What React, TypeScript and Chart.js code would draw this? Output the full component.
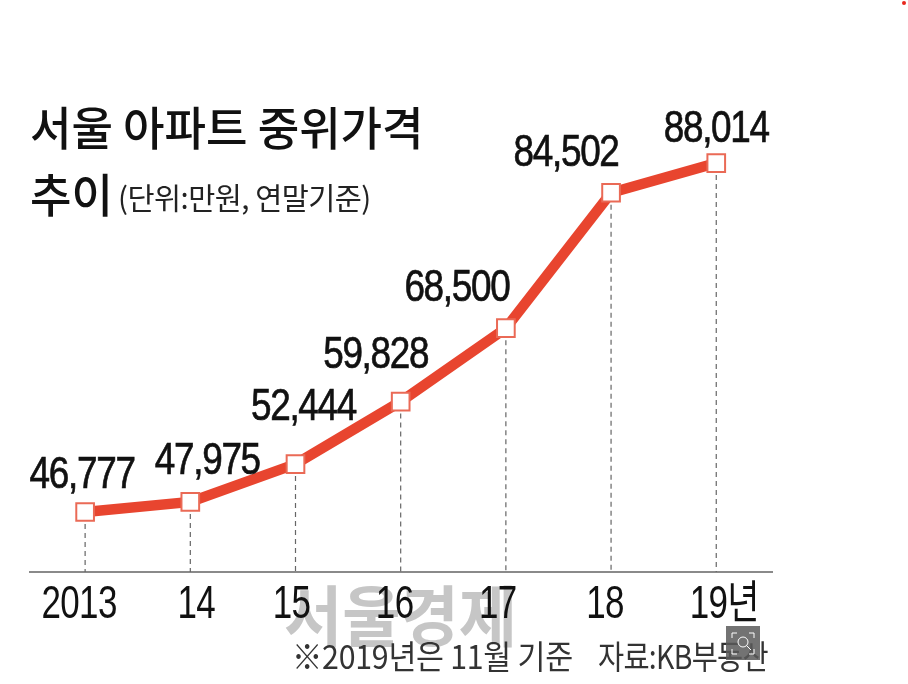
import React, { useEffect, useRef } from "react";
import { Chart, registerables } from "chart.js";

Chart.register(...registerables);

const categories = ["2013", "14", "15", "16", "17", "18", "19년"];
const prices = [46777, 47975, 52444, 59828, 68500, 84502, 88014];
const titleLines = ["서울 아파트 중위가격", "추이"];
const unitNote = "(단위:만원, 연말기준)";
const footNote = "※2019년은 11월 기준";
const sourceNote = "자료:KB부동산";
const watermark = "서울경제";
const labelCentreShift = [-3, 17, 8, -25, -49, -45, 0];
const labelLift = [24, 28, 44, 34, 27, 27, 21];
const tickShift = [-6, 6, -4, -6, -8, -6, 8];

const KR = '"Noto Sans CJK KR"';
const NUM = '"Liberation Sans", ' + KR;

function squeezed(
  ctx: CanvasRenderingContext2D,
  text: string,
  x: number,
  y: number,
  font: string,
  sx: number,
  color: string,
  spacing = "0px",
  align: CanvasTextAlign = "left",
  embolden = 0,
) {
  ctx.save();
  ctx.font = font;
  ctx.fillStyle = color;
  ctx.textAlign = align;
  ctx.textBaseline = "alphabetic";
  (ctx as any).letterSpacing = spacing;
  ctx.translate(x, y);
  ctx.scale(sx, 1);
  ctx.fillText(text, 0, 0);
  if (embolden > 0) {
    ctx.strokeStyle = color;
    ctx.lineWidth = embolden;
    ctx.strokeText(text, 0, 0);
  }
  ctx.restore();
}

const artwork = {
  id: "artwork",
  beforeDraw(chart: any) {
    const ctx = chart.ctx;
    ctx.save();
    ctx.fillStyle = "#ffffff";
    ctx.fillRect(0, 0, chart.width, chart.height);
    ctx.fillStyle = "#e8261c";
    ctx.beginPath();
    ctx.arc(904, 3, 2, 0, Math.PI * 2);
    ctx.fill();
    ctx.restore();
    squeezed(ctx, watermark, 284, 641, `700 66px ${KR}`, 0.96, "#c6c6c6");
    squeezed(ctx, titleLines[0], 30, 145, `500 46px ${KR}`, 0.98, "#111111");
    squeezed(ctx, titleLines[1], 30, 212, `500 46px ${KR}`, 0.98, "#111111");
    squeezed(ctx, unitNote, 118, 209, `400 30px ${KR}`, 0.98, "#222222", "-0.5px");
    squeezed(ctx, footNote, 292, 669, `400 33px ${KR}`, 0.92, "#333333", "-0.3px");
    squeezed(ctx, sourceNote, 598, 669, `400 33px ${KR}`, 0.86, "#333333", "-0.8px");
  },
  beforeDatasetsDraw(chart: any) {
    const ctx = chart.ctx;
    const xs = chart.scales.x;
    categories.forEach((c, i) => {
      squeezed(ctx, c, xs.getPixelForValue(i) + tickShift[i], 618, `400 46px ${NUM}`, 0.76, "#111111", "-0.8px", "center");
    });
    const pts = chart.getDatasetMeta(0).data;
    const base = chart.chartArea.bottom;
    ctx.save();
    ctx.strokeStyle = "#666666";
    ctx.lineWidth = 1.2;
    ctx.setLineDash([5, 4]);
    pts.forEach((p: any) => {
      ctx.beginPath();
      ctx.moveTo(p.x, p.y + 12);
      ctx.lineTo(p.x, base);
      ctx.stroke();
    });
    ctx.restore();
  },
  afterDatasetsDraw(chart: any) {
    const ctx = chart.ctx;
    const pts = chart.getDatasetMeta(0).data;
    pts.forEach((p: any, i: number) => {
      squeezed(
        ctx,
        prices[i].toLocaleString("en-US"),
        p.x + labelCentreShift[i],
        p.y - labelLift[i],
        `400 45px ${NUM}`,
        0.82,
        "#111111",
        "-1.6px",
        "center",
        0.7,
      );
    });
  },
  afterDraw(chart: any) {
    const ctx = chart.ctx;
    ctx.save();
    ctx.fillStyle = "rgba(90,90,90,0.85)";
    ctx.fillRect(726, 626, 34, 34);
    ctx.strokeStyle = "#ffffff";
    ctx.lineWidth = 1;
    ctx.beginPath();
    ctx.moveTo(732, 638); ctx.lineTo(732, 633); ctx.lineTo(737, 633);
    ctx.moveTo(749, 633); ctx.lineTo(754, 633); ctx.lineTo(754, 638);
    ctx.moveTo(754, 649); ctx.lineTo(754, 654); ctx.lineTo(749, 654);
    ctx.moveTo(737, 654); ctx.lineTo(732, 654); ctx.lineTo(732, 649);
    ctx.stroke();
    ctx.beginPath();
    ctx.arc(743, 642, 5, 0, Math.PI * 2);
    ctx.moveTo(746.5, 645.5); ctx.lineTo(751, 650);
    ctx.stroke();
    ctx.restore();
  },
};

export default function App() {
  const ref = useRef<HTMLCanvasElement>(null);
  useEffect(() => {
    const chart = new Chart(ref.current as HTMLCanvasElement, {
      type: "line",
      data: {
        datasets: [
          {
            data: prices.map((v, i) => ({ x: i, y: v })),
            borderColor: "#e8452f",
            borderWidth: 10.5,
            borderJoinStyle: "miter",
            tension: 0,
            pointStyle: "rect",
            pointRadius: 12.5,
            pointBackgroundColor: "#ffffff",
            pointBorderColor: "#ea6a56",
            pointBorderWidth: 2,
          },
        ],
      },
      options: {
        responsive: false,
        animation: false,
        layout: { autoPadding: false, padding: { left: 30, right: 136, top: 0, bottom: 0 } },
        plugins: { legend: { display: false }, tooltip: { enabled: false }, title: { display: false } },
        scales: {
          x: {
            type: "linear",
            min: -0.524,
            max: 6.53,
            afterBuildTicks: (s: any) => {
              s.ticks = categories.map((_, i) => ({ value: i }));
            },
            afterFit: (s: any) => {
              s.height = 112;
            },
            grid: { display: false, drawTicks: false },
            border: { display: true, color: "#8a8a8a", width: 2 },
            ticks: { display: false },
          },
          y: { display: false, min: 39690, max: 107280 },
        },
      },
      plugins: [artwork],
    } as any);
    return () => chart.destroy();
  }, []);
  return (
    <div style={{ position: "fixed", left: 0, top: 0, width: 908, height: 684, background: "#fff" }}>
      <canvas ref={ref} width={908} height={684} style={{ display: "block", filter: "blur(0.6px)" }} />
    </div>
  );
}
